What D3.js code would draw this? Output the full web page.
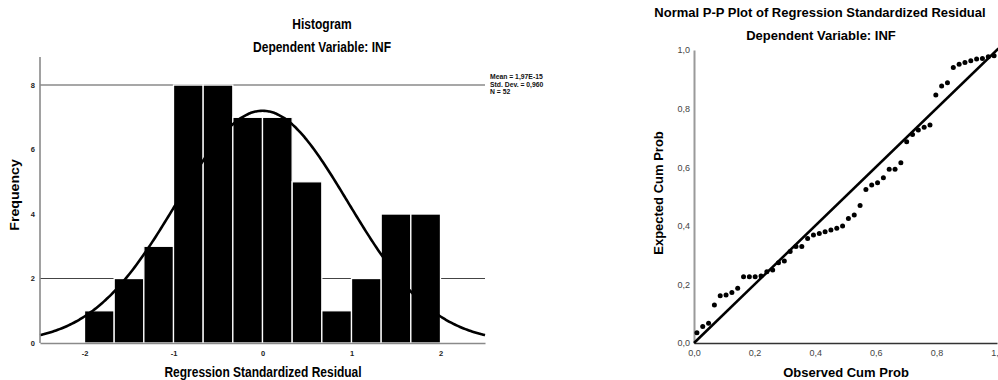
<!DOCTYPE html>
<html><head><meta charset="utf-8">
<script src="https://cdn.jsdelivr.net/npm/d3@7"></script>
<style>
body{margin:0;background:#fff}
svg{display:block;font-family:"Liberation Sans",Arial,sans-serif}
</style>
</head><body><svg id="c" width="998" height="380"></svg>
<script>
// ---------- Histogram data ----------
const binStarts = [-2, -1.6667, -1.3333, -1, -0.6667, -0.3333, 0, 0.3333, 0.6667, 1, 1.3333, 1.6667];
const binWidth = 0.3333;
const frequencies = [1, 2, 3, 8, 8, 7, 7, 5, 1, 2, 4, 4];
const histXTicks = [-2, -1, 0, 1, 2];
const histYTicks = [0, 2, 4, 6, 8];
const histGridLines = [2, 8];
const residMean = 1.97e-15;
const residSD = 0.960;
const residN = 52;
const statLabels = ["Mean = 1,97E-15", "Std. Dev. = 0,960", "N = 52"];

// ---------- P-P plot data ----------
const observedCum = [0.0096, 0.0288, 0.0481, 0.0673, 0.0865, 0.1058, 0.125, 0.1442, 0.1635, 0.1827,
  0.2019, 0.2212, 0.2404, 0.2596, 0.2788, 0.2981, 0.3173, 0.3365, 0.3558, 0.375,
  0.3942, 0.4135, 0.4327, 0.4519, 0.4712, 0.4904, 0.5096, 0.5288, 0.5481, 0.5673,
  0.5865, 0.6058, 0.625, 0.6442, 0.6635, 0.6827, 0.7019, 0.7212, 0.7404, 0.7596,
  0.7788, 0.7981, 0.8173, 0.8365, 0.8558, 0.875, 0.8942, 0.9135, 0.9327, 0.9519,
  0.9712, 0.9904];
const expectedCum = [0.035, 0.056, 0.067, 0.130, 0.161, 0.164, 0.172, 0.187, 0.226, 0.226,
  0.226, 0.229, 0.243, 0.249, 0.274, 0.280, 0.312, 0.329, 0.329, 0.357,
  0.369, 0.374, 0.380, 0.386, 0.392, 0.399, 0.425, 0.437, 0.469, 0.524,
  0.539, 0.547, 0.564, 0.593, 0.593, 0.615, 0.687, 0.712, 0.727, 0.736,
  0.744, 0.846, 0.877, 0.888, 0.940, 0.951, 0.957, 0.963, 0.969, 0.971,
  0.977, 0.980];
const ppTicks = [0, 0.2, 0.4, 0.6, 0.8, 1.0];

const svg = d3.select("#c");

// ================= HISTOGRAM =================
const hx = d3.scaleLinear().domain([-2.5, 2.5]).range([40, 485]);
const hy = d3.scaleLinear().domain([0, 8.87]).range([343, 57]);
const H = svg.append("g");

// gridlines
H.selectAll("line.grid").data(histGridLines).join("line")
  .attr("x1", hx(-2.5)).attr("x2", hx(2.5))
  .attr("y1", d => hy(d)).attr("y2", d => hy(d))
  .attr("stroke", d => d === 8 ? "#8a8a8a" : "#444")
  .attr("stroke-width", d => d === 8 ? 1.6 : 1);

// bars
H.selectAll("rect.bar").data(frequencies).join("rect")
  .attr("x", (d, i) => hx(binStarts[i]))
  .attr("width", (d, i) => hx(binStarts[i] + binWidth) - hx(binStarts[i]))
  .attr("y", d => hy(d))
  .attr("height", d => hy(0) - hy(d))
  .attr("fill", "#000").attr("stroke", "#fff").attr("stroke-width", 1.3);

// normal curve
const curveX = d3.range(-2.5, 2.5001, 0.02);
const scaleK = residN * binWidth / (residSD * Math.sqrt(2 * Math.PI));
const curvePts = curveX.map(x => [x, scaleK * Math.exp(-0.5 * Math.pow((x - residMean) / residSD, 2))]);
H.append("path").datum(curvePts)
  .attr("d", d3.line().x(d => hx(d[0])).y(d => hy(d[1])).curve(d3.curveBasis))
  .attr("fill", "none").attr("stroke", "#000").attr("stroke-width", 2.6);

// axes
const hyAxis = H.append("g").attr("transform", `translate(${hx(-2.5)},0)`)
  .call(d3.axisLeft(hy).tickValues(histYTicks).tickSize(0).tickSizeOuter(0).tickPadding(5).tickFormat(d => String(d)));
const hxAxis = H.append("g").attr("transform", `translate(0,${hy(0)})`)
  .call(d3.axisBottom(hx).tickValues(histXTicks).tickSize(0).tickSizeOuter(0).tickPadding(8).tickFormat(d => String(d)));
[hyAxis, hxAxis].forEach(a => {
  a.select(".domain").attr("stroke", "#8a8a8a").attr("stroke-width", 1.6);
  a.selectAll("text").attr("font-size", 7.5).attr("font-weight", "bold").attr("fill", "#222")
    .attr("font-family", '"Liberation Sans",Arial,sans-serif');
});
hyAxis.select(".domain").attr("d", `M0,${hy(0)}V${hy(8.87)}`);

// histogram texts (source image is slightly stretched vertically)
function stretched(g, x, y, txt, size, weight, anchor, rot) {
  g.append("text")
    .attr("transform", `translate(${x},${y}) ${rot ? "rotate(-90) scale(1.18,1)" : "scale(1,1.17)"}`)
    .attr("text-anchor", anchor).attr("font-size", size).attr("font-weight", weight)
    .attr("fill", "#000").text(txt);
}
stretched(H, 322, 29, "Histogram", 12, "bold", "middle");
stretched(H, 322, 52, "Dependent Variable: INF", 12, "bold", "middle");
stretched(H, 263, 377, "Regression Standardized Residual", 12, "bold", "middle");
stretched(H, 19, 195, "Frequency", 12, "bold", "middle", true);

H.selectAll("text.stat").data(statLabels).join("text")
  .attr("x", 490).attr("y", (d, i) => 79 + i * 7.6)
  .attr("font-size", 6.8).attr("font-weight", "bold").attr("fill", "#111")
  .text(d => d);

// ================= P-P PLOT =================
const px = d3.scaleLinear().domain([0, 1]).range([694, 997]);
const py = d3.scaleLinear().domain([0, 1]).range([343, 50]);
const P = svg.append("g");
const fmt = d => d3.format(".1f")(d).replace(".", ",");

const pyAxis = P.append("g").attr("transform", `translate(${px(0)},0)`)
  .call(d3.axisLeft(py).tickValues(ppTicks).tickSize(0).tickSizeOuter(0).tickPadding(4).tickFormat(fmt));
const pxAxis = P.append("g").attr("transform", `translate(0,${py(0)})`)
  .call(d3.axisBottom(px).tickValues(ppTicks).tickSize(0).tickSizeOuter(0).tickPadding(7).tickFormat(fmt));
pyAxis.select(".domain").attr("stroke", "#9a9a9a").attr("stroke-width", 2);
pxAxis.select(".domain").attr("stroke", "#333").attr("stroke-width", 1.5);
[pyAxis, pxAxis].forEach(a => a.selectAll("text").attr("font-size", 9).attr("fill", "#444")
  .attr("font-family", '"Liberation Sans",Arial,sans-serif'));

// diagonal reference line
P.append("line")
  .attr("x1", px(0)).attr("y1", py(0)).attr("x2", px(1.005)).attr("y2", py(1.005))
  .attr("stroke", "#000").attr("stroke-width", 2.6);

// points
P.selectAll("circle").data(observedCum).join("circle")
  .attr("cx", d => px(d)).attr("cy", (d, i) => py(expectedCum[i]))
  .attr("r", 2.5).attr("fill", "#000");

P.append("text").attr("x", 820).attr("y", 17).attr("text-anchor", "middle")
  .attr("font-size", 13).attr("font-weight", "bold").text("Normal P-P Plot of Regression Standardized Residual");
P.append("text").attr("x", 821).attr("y", 40).attr("text-anchor", "middle")
  .attr("font-size", 13).attr("font-weight", "bold").text("Dependent Variable: INF");
P.append("text").attr("x", 846).attr("y", 377).attr("text-anchor", "middle")
  .attr("font-size", 13).attr("font-weight", "bold").text("Observed Cum Prob");
P.append("text").attr("transform", "translate(663,193) rotate(-90)").attr("text-anchor", "middle")
  .attr("font-size", 13).attr("font-weight", "bold").text("Expected Cum Prob");
</script>
</body></html>
